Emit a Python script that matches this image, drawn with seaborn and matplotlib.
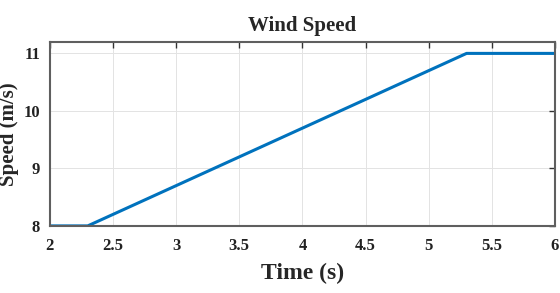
import matplotlib
matplotlib.use("Agg")
import matplotlib.pyplot as plt
import seaborn as sns
import pandas as pd

# wind speed profile
time_s = [2.0, 2.3, 5.3, 6.0]
speed_ms = [8.0, 8.0, 11.0, 11.0]
x_ticks = [2, 2.5, 3, 3.5, 4, 4.5, 5, 5.5, 6]
x_tick_labels = ["2", "2.5", "3", "3.5", "4", "4.5", "5", "5.5", "6"]
y_ticks = [8, 9, 10, 11]

df = pd.DataFrame({"time": time_s, "speed": speed_ms})

sns.set_style("whitegrid")
plt.rcParams["font.family"] = ["Liberation Serif", "DejaVu Serif"]

fig = plt.figure(figsize=(5.6, 2.93), dpi=100)
ax = fig.add_axes([0.089, 0.229, 0.902, 0.628])

sns.lineplot(data=df, x="time", y="speed", ax=ax, color="#0072BD", linewidth=2.2)

ax.set_xlim(2, 6)
ax.set_ylim(8, 11.2)
ax.set_xticks(x_ticks)
ax.set_xticklabels(x_tick_labels)
ax.set_yticks(y_ticks)

ax.grid(True, color="#e3e3e3", linewidth=0.7)
for side in ax.spines.values():
    side.set_visible(True)
    side.set_color("#5f5f5f")
    side.set_linewidth(1.5)

ax.tick_params(direction="in", top=True, right=True, length=4, width=1,
               color="#333333", labelsize=12, pad=9)
ax.tick_params(axis="y", pad=7)
for lbl in ax.get_xticklabels() + ax.get_yticklabels():
    lbl.set_fontweight("bold")
    lbl.set_color("#222222")

ax.set_title("Wind Speed", fontsize=15, fontweight="bold", pad=8)
ax.set_xlabel("Time (s)", fontsize=17, fontweight="bold", labelpad=6)
ax.set_ylabel("Speed (m/s)", fontsize=15, fontweight="bold")
ax.yaxis.set_label_coords(-0.062, 0.5)

plt.savefig("out.png", dpi=100)
